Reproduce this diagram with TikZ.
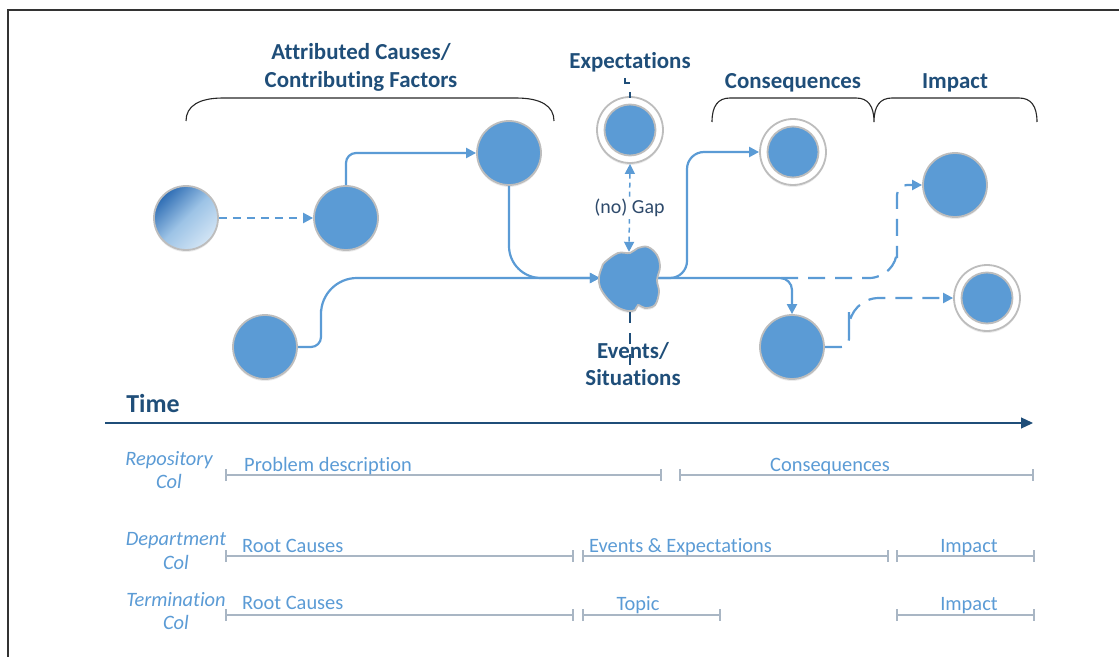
\documentclass[tikz,border=0pt]{standalone}
\usepackage{fontspec}
\setmainfont{Carlito}[Ligatures=NoCommon]
\usetikzlibrary{arrows.meta,shadows}
\definecolor{cblue}{HTML}{5B9BD5}
\definecolor{dblue}{HTML}{1F4E79}
\definecolor{gdark}{HTML}{2E6DB4}
\definecolor{glight}{HTML}{D3E5F5}
\definecolor{ringgrey}{HTML}{BDBDBD}
\definecolor{tickgrey}{HTML}{A9B6C4}
\definecolor{gapcol}{HTML}{2E4A6B}
\begin{document}
\begin{tikzpicture}[x=1bp,y=-1bp,
  >={Triangle[length=10bp,width=10bp]},
  shad/.style={drop shadow={opacity=0.15,shadow xshift=0pt,shadow yshift=-2pt}},
  ball/.style={circle,minimum size=64bp,inner sep=0pt,fill=cblue,draw=ringgrey,line width=1.8bp,shad},
  ringout/.style={circle,minimum size=66bp,inner sep=0pt,fill=white,draw=ringgrey,line width=1.8bp,shad},
  ringin/.style={circle,minimum size=51bp,inner sep=0pt,fill=cblue,draw=ringgrey,line width=1.8bp},
  conn/.style={draw=cblue,line width=2.2bp},
  dconn/.style={conn,dash pattern=on 17bp off 10bp},
  head/.style={font=\fontsize{23}{28}\selectfont\bfseries,text=dblue,align=center,inner sep=0pt},
  lab/.style={font=\fontsize{20.5}{22}\selectfont,text=cblue,inner sep=0pt},
  rowlab/.style={font=\fontsize{20.5}{24}\selectfont\itshape,text=cblue,align=center,inner sep=0pt},
  seg/.style={draw=tickgrey,line width=2bp,{Bar[width=12bp]}-{Bar[width=12bp]}},
  brace/.style={draw=black!85,line width=1.1bp},
  darkmark/.style={draw=dblue,line width=1.3bp}
]
\useasboundingbox (0,0) rectangle (1119,657);
\draw[draw=black!80,line width=1.5bp] (8,657) -- (8,10) -- (1119,10);

% headings
\node[head] (hac) at (361,67) {Attributed Causes/\\Contributing Factors};
\node[head] (hex) at (630,62) {Expectations};
\node[head] (hco) at (793,83) {Consequences};
\node[head] (him) at (955,83) {Impact};
\node[head,font=\fontsize{23}{27}\selectfont\bfseries] (hev) at (633,364) {Events/\\Situations};
\node[head,font=\fontsize{26}{30}\selectfont\bfseries] (htime) at (153,404) {Time};

% braces
\draw[brace] (186,121) .. controls (186,106) and (199,98) .. (223,98) -- (516,98)
  .. controls (541,98) and (554,106) .. (554,121);
\draw[brace] (712,122) .. controls (712,106) and (718,98) .. (730,98) -- (856,98)
  .. controls (868,98) and (874,106) .. (874,122)
  .. controls (874,106) and (880,98) .. (892,98) -- (1019,98)
  .. controls (1031,98) and (1037,106) .. (1037,122);

% nodes
\node[circle,minimum size=64bp,inner sep=0pt,draw=ringgrey,line width=1.8bp,shad,
  top color=gdark,bottom color=glight,middle color=cblue!60,shading angle=45] (g) at (186,218) {};
\node[ball] (c2) at (346,218) {};
\node[ball] (c3) at (509,153) {};
\node[ball] (c4) at (265,347) {};
\node[ringout] (ex) at (630,130) {};
\node[ringin] (exi) at (630,130) {};
\node[ringout] (co) at (793,152) {};
\node[ringin] (coi) at (793,152) {};
\node[ball] (im) at (955,185) {};
\node[ball] (lc) at (792,347) {};
\node[ringout] (br) at (987,298) {};
\node[ringin] (bri) at (987,298) {};
\node[minimum width=58bp,minimum height=52bp,inner sep=0pt] (ev) at (629,278) {};
\coordinate (split) at (781,278);

% connectors
\draw[conn,->,dash pattern=on 8bp off 6bp] (g) -- (c2);
\draw[conn,->,rounded corners=10bp] (c2.north) |- (c3.west);
\draw[conn,->,rounded corners=32bp] (c3.south) |- (ev.west);
\draw[conn,->,rounded corners=10bp] (c4.east) -| (321,320) [rounded corners=36bp] |- (ev.west);
\draw[conn,->,rounded corners=17bp] (ev.east) -| (687,200) |- (co.west);
\draw[conn,->,rounded corners=12bp] (ev.east) -| (lc.north);
\draw[dconn,->,rounded corners=28bp] (split) -| (897,230) [rounded corners=10bp] |- (im.west);
\draw[dconn,->,rounded corners=8bp] (lc.east) -| (849,320) [rounded corners=30bp] |- (br.west);
\draw[conn,line width=1.5bp,dash pattern=on 5bp off 4bp,<->] (ex.south) -- node[fill=white,inner sep=2bp,font=\fontsize{20}{22}\selectfont,text=gapcol] (gap) {(no) Gap} (ev.north);

% event blob
\filldraw[fill=cblue,draw=ringgrey,line width=1.8bp,shad] plot[smooth cycle,tension=0.6] coordinates {
 (605,262) (618,253) (630,253) (638,248) (648,247) (657,255) (660,267) (657,280) (659,292)
 (655,305) (645,308) (638,305) (635,310) (628,311) (617,307) (607,298) (600,287) (599,277) (602,267)};

% small dark marks
\draw[darkmark] (625,78) -- (625,83) -- (630,83);
\draw[darkmark] (630,92) -- (630,98);
\draw[darkmark,dash pattern=on 11bp off 10bp] (630,312) -- (630,367);

% time axis
\coordinate (t0) at (105,423);
\coordinate (t1) at (1033,423);
\draw[draw=dblue,line width=1.2bp,-{Triangle[length=12bp,width=11bp]}] (t0) -- (t1);

% row labels
\node[rowlab] (r1) at (169,470) {Repository\\Col};
\node[rowlab] (r2) at (176,551) {Department\\Col};
\node[rowlab] (r3) at (176,611) {Termination\\Col};

% row segments
\draw[seg] (225,475) -- (662,475);
\draw[seg] (679,475) -- (1034,475);
\draw[seg] (225,556) -- (574,556);
\draw[seg] (582,556) -- (889,556);
\draw[seg] (896,556) -- (1035,556);
\draw[seg] (225,615) -- (574,615);
\draw[seg] (582,615) -- (721,615);
\draw[seg] (896,615) -- (1035,615);

% segment texts
\node[lab,anchor=base west] (s1) at (244,471) {Problem description};
\node[lab,anchor=base] (s2) at (830,471) {Consequences};
\node[lab,anchor=base west] (s3) at (242,552) {Root Causes};
\node[lab,anchor=base west] (s4) at (589,552) {Events \& Expectations};
\node[lab,anchor=base] (s5) at (969,552) {Impact};
\node[lab,anchor=base west] (s6) at (242,609) {Root Causes};
\node[lab,anchor=base] (s7) at (638,610) {Topic};
\node[lab,anchor=base] (s8) at (969,610) {Impact};
\end{tikzpicture}
\end{document}
